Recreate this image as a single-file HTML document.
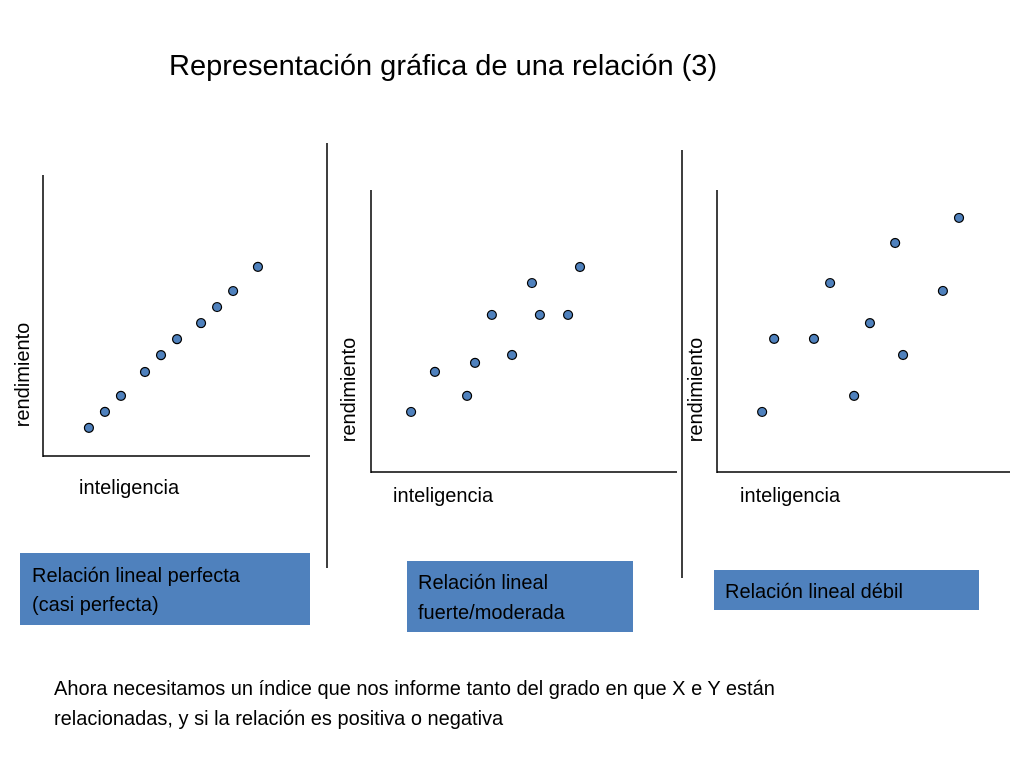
<!DOCTYPE html>
<html><head><meta charset="utf-8"><style>
body{margin:0;background:#fff;}
svg{display:block;font-family:"Liberation Sans",Calibri,sans-serif;}
</style></head><body>
<svg id="s" width="1024" height="768">
<text x="169" y="75" font-size="29" fill="#000">Representación gráfica de una relación (3)</text>
<line x1="327" y1="143" x2="327" y2="568" stroke="#000" stroke-width="1.5"/>
<line x1="682" y1="150" x2="682" y2="578" stroke="#000" stroke-width="1.5"/>
<rect x="20" y="553" width="290" height="72" fill="#4f81bd"/>
<text x="32" y="582" font-size="20">Relación lineal perfecta</text>
<text x="32" y="611" font-size="20">(casi perfecta)</text>
<rect x="407" y="561" width="226" height="71" fill="#4f81bd"/>
<text x="418" y="589" font-size="20">Relación lineal</text>
<text x="418" y="619" font-size="20">fuerte/moderada</text>
<rect x="714" y="570" width="265" height="40" fill="#4f81bd"/>
<text x="725" y="598" font-size="20">Relación lineal débil</text>
<text x="54" y="695" font-size="20">Ahora necesitamos un índice que nos informe tanto del grado en que X e Y están</text>
<text x="54" y="725" font-size="20">relacionadas, y si la relación es positiva o negativa</text>
</svg>
<script>
const xs1=[17.2,23.2,29.2,38.2,44.2,50.2,59.2,65.2,71.2,80.5];
const ys1=[10,15.7,21.4,29.9,35.9,41.6,47.3,53,58.7,67.3];
const xs2=[13.1,20.9,31.4,34,39.5,46.1,52.6,55.2,64.4,68.3];
const ys2=[21.3,35.5,27,38.7,55.7,41.5,67,55.7,55.7,72.7];
const xs3=[15.4,19.5,33.1,38.6,46.8,52.2,60.8,63.5,77.1,82.6];
const ys3=[21.3,47.2,47.2,67,27,52.8,81.2,41.5,64.2,90.1];
const NS="http://www.w3.org/2000/svg";
const svg=document.getElementById('s');
function mk(tag,attrs){const e=document.createElementNS(NS,tag);for(const k in attrs)e.setAttribute(k,attrs[k]);svg.appendChild(e);return e;}
function chart(n,x0,x1,y0,y1,xs,ys,ylx,yly,xlx,xly){
  const sx=v=>x0+v/100*(x1-x0), sy=v=>y0-v/100*(y0-y1);
  let a=mk('line',{x1:x0,y1:y1,x2:x0,y2:y0+1,stroke:'#000','stroke-width':1.5});
  
  
  a=mk('line',{x1:x0,y1:y0,x2:x1,y2:y0,stroke:'#000','stroke-width':1.5});
  
  
  let t=mk('text',{x:ylx,y:yly,'font-size':20,'text-anchor':'middle',transform:'rotate(-90 '+ylx+' '+yly+')'});
  t.textContent='rendimiento';
  
  
  t=mk('text',{x:xlx,y:xly,'font-size':20});
  t.textContent='inteligencia';
  
  
  xs.forEach((v,i)=>{
    const c=mk('circle',{cx:sx(v),cy:sy(ys[i]),r:4.5,fill:'#4f81bd',stroke:'#000','stroke-width':1.2});
    
    
  });
}
chart(1,43,310,456,175,xs1,ys1,29,375,79,494);
chart(2,371,677,472,190,xs2,ys2,355,390,393,502);
chart(3,717,1010,472,190,xs3,ys3,702,390,740,502);
</script>
</body></html>
